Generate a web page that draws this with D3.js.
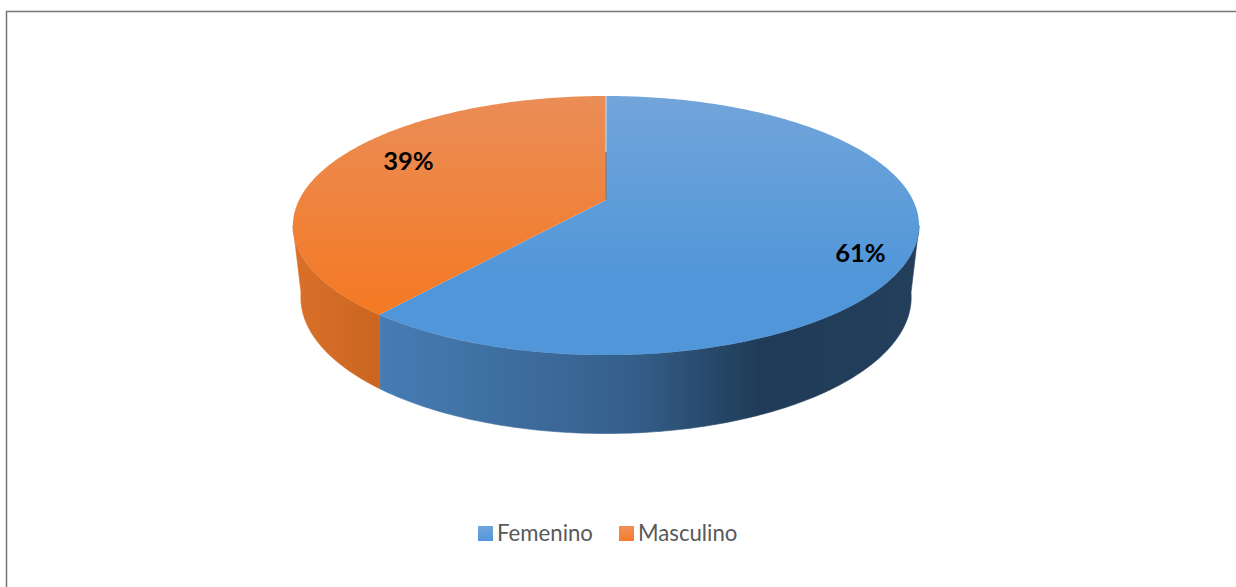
<!DOCTYPE html>
<head>
  <meta charset="utf-8">
  <script src="https://d3js.org/d3.v7.min.js"></script>
  <style type="text/css">
    html, body { margin: 0; padding: 0; background: #fff; overflow: hidden; }
    * { font-family: "Lato" }
  </style>
</head>
<body>
<div id="my_dataviz"></div>
<script>

// the values of the chart (labels round them to 61 and 39)
var categories = ["Femenino", "Masculino"];
var shares = [60.75, 39.25];

var width = 1236, height = 587;

var svg = d3.select("#my_dataviz")
  .append("svg")
    .attr("width", width)
    .attr("height", height)
    .style("display", "block");

var defs = svg.append("defs");

// gradients, top faces and swatches fade vertically, sides horizontally
function gradient(id, x2, y2, stops, user) {
  var g = defs.append("linearGradient").attr("id", id);
  if (user) {
    g.attr("gradientUnits", "userSpaceOnUse")
      .attr("x1", user[0]).attr("y1", user[1]).attr("x2", user[2]).attr("y2", user[3]);
  } else {
    g.attr("x1", 0).attr("y1", 0).attr("x2", x2).attr("y2", y2);
  }
  stops.forEach(function(s) {
    g.append("stop").attr("offset", s[0]).attr("stop-color", s[1]);
  });
}
gradient("topBlue", 0, 1, [[0, "#72a5da"], [0.72, "#5096d9"], [1, "#5096d9"]], [0, 96, 0, 355]);
gradient("topOrange", 0, 1, [[0, "#ea8d57"], [0.8, "#f47a26"], [1, "#f47a26"]], [0, 96, 0, 355]);
gradient("sideBlue", 1, 0, [[0, "#467cb3"], [0.47, "#355f8b"], [0.71, "#1f3b57"], [1, "#243f5b"]], [384, 0, 913, 0]);
gradient("sideOrange", 1, 0, [[0, "#d9702a"], [1, "#c9651f"]], [296, 0, 384, 0]);
gradient("swatchBlue", 0, 1, [[0, "#71a5db"], [1, "#5198db"]]);
gradient("swatchOrange", 0, 1, [[0, "#ef8f5a"], [1, "#f77c28"]]);

var topFill = ["url(#topBlue)", "url(#topOrange)"];
var sideFill = ["url(#sideBlue)", "url(#sideOrange)"];
var swatchFill = ["url(#swatchBlue)", "url(#swatchOrange)"];

// chart frame, only the top and left edges are in the picture
svg.append("path")
  .attr("d", "M6.5,587V11.5H1236")
  .attr("fill", "none")
  .attr("stroke", "#767676")
  .attr("stroke-width", 1.5);

// the disc is tilted, so a circle goes through a small perspective map
var cx = 606;
var topDisc = {y0: 200, rx: 306.9, ry: 124.5, k: 0.197};
var bottomDisc = {y0: 266, rx: 297, ry: 129, k: 0.23};

function project(disc, a) {
  var u = Math.sin(a), v = -Math.cos(a), w = 1 - disc.k * v;
  return [cx + disc.rx * u / w, disc.y0 + disc.ry * v / w];
}

var pie = d3.pie().sort(null)(shares);
var line = d3.line();

function rim(disc, a0, a1) {
  var n = Math.max(2, Math.ceil((a1 - a0) * 60));
  return d3.range(n + 1).map(function(i) {
    return project(disc, a0 + (a1 - a0) * i / n);
  });
}

// where the rim turns away from the viewer, the outline of the drum
var rightEdge = Math.PI / 2 + Math.asin(topDisc.k);
var leftEdge = 2 * Math.PI - rightEdge;

// sides first, only the part that faces the viewer
// the same-colour stroke closes the hairline between the two pieces
svg.append("g").selectAll("path")
  .data(pie)
  .enter()
  .append("path")
    .attr("fill", function(d, i) { return sideFill[i]; })
    .attr("stroke", function(d, i) { return sideFill[i]; })
    .attr("stroke-width", 0.6)
    .attr("d", function(d) {
      var a0 = Math.max(d.startAngle, rightEdge), a1 = Math.min(d.endAngle, leftEdge);
      return line(rim(topDisc, a0, a1).concat(rim(bottomDisc, a0, a1).reverse())) + "Z";
    });

// top faces
svg.append("g").selectAll("path")
  .data(pie)
  .enter()
  .append("path")
    .attr("fill", function(d, i) { return topFill[i]; })
    .attr("d", function(d) {
      return line([[cx, topDisc.y0]].concat(rim(topDisc, d.startAngle, d.endAngle))) + "Z";
    });

// seam between the two slices at the back
svg.append("line")
  .attr("x1", cx).attr("x2", cx).attr("y1", 96).attr("y2", 152)
  .attr("stroke", "#d8dde2").attr("stroke-width", 1);
svg.append("line")
  .attr("x1", cx).attr("x2", cx).attr("y1", 152).attr("y2", topDisc.y0)
  .attr("stroke", "#8a7464").attr("stroke-width", 1);

// data labels
var labelPos = [[860.5, 253], [408.5, 161]];
svg.append("g").selectAll("text")
  .data(shares)
  .enter()
  .append("text")
    .attr("x", function(d, i) { return labelPos[i][0]; })
    .attr("y", function(d, i) { return labelPos[i][1]; })
    .attr("dy", "0.35em")
    .attr("text-anchor", "middle")
    .style("font-size", "25.5px")
    .style("font-weight", "700")
    .style("fill", "#000")
    .text(function(d) { return Math.round(d) + "%"; });

// legend
var legendX = [478, 619];
var legend = svg.append("g").selectAll("g")
  .data(categories)
  .enter()
  .append("g")
    .attr("transform", function(d, i) { return "translate(" + legendX[i] + ",526)"; });
legend.append("rect")
  .attr("width", 15).attr("height", 15)
  .attr("fill", function(d, i) { return swatchFill[i]; });
legend.append("text")
  .attr("x", 19)
  .attr("y", 7)
  .attr("dy", "0.35em")
  .style("font-size", "22.2px")
  .style("fill", "#595959")
  .text(function(d) { return d; });

</script>
</body>
</html>
